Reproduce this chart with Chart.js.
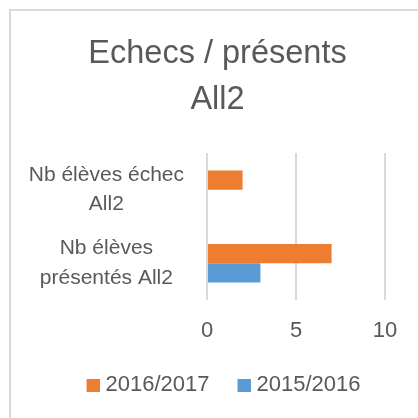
<!DOCTYPE html>
<html>
<head>
<meta charset="utf-8">
<script src="https://cdn.jsdelivr.net/npm/chart.js@4"></script>
<style>
  html, body { margin: 0; padding: 0; background: #ffffff; }
  body { width: 418px; height: 418px; overflow: hidden; position: relative; }
  #frame { position: absolute; left: 9px; top: 9px; width: 600px; height: 600px; border: 2px solid #d9d9d9; box-sizing: border-box; }
  #c { position: absolute; left: 0; top: 0; }
</style>
</head>
<body>
<div id="frame"></div>
<canvas id="c" width="418" height="418"></canvas>
<script>
const titleLines = ["Echecs / présents", "All2"];
const categories = [["Nb élèves échec", "All2"], ["Nb élèves", "présentés All2"]];
const seriesNames = ["2016/2017", "2015/2016"];
const values2016_2017 = [2, 7];
const values2015_2016 = [0, 3];
const xTicks = [0, 5, 10];
const seriesColors = ['#ED7D31', '#5B9BD5'];

const FONT = "'Liberation Sans', Arial, sans-serif";
const TEXT = "#595959";
const GRID = "#d9d9d9";

// legend swatch: 13px square placed at the right of a 30px wide image
function makeSwatch(color) {
  const cv = document.createElement('canvas');
  cv.width = 30; cv.height = 13;
  const g = cv.getContext('2d');
  g.fillStyle = color;
  g.fillRect(17, 0, 13, 13);
  return cv;
}
const swatches = seriesColors.map(makeSwatch);

new Chart(document.getElementById('c'), {
  type: 'bar',
  data: {
    labels: categories,
    datasets: [
      { label: seriesNames[0], data: values2016_2017, backgroundColor: seriesColors[0], borderWidth: 0 },
      { label: seriesNames[1], data: values2015_2016, backgroundColor: seriesColors[1], borderWidth: 0 }
    ]
  },
  options: {
    indexAxis: 'y',
    responsive: false,
    animation: false,
    devicePixelRatio: 1,
    layout: { padding: { left: 20, right: 3, top: 12, bottom: 12 } },
    datasets: { bar: { barPercentage: 1.0, categoryPercentage: 0.527 } },
    scales: {
      x: {
        min: xTicks[0],
        max: xTicks[xTicks.length - 1],
        afterBuildTicks: (axis) => { axis.ticks = xTicks.map(v => ({ value: v })); },
        afterFit: (axis) => { axis.height = 58; },
        grid: { color: GRID, lineWidth: 2, drawTicks: false },
        border: { display: false },
        ticks: { color: TEXT, font: { family: FONT, size: 22, lineHeight: '50px' }, padding: 6 }
      },
      y: {
        grid: { display: false, drawTicks: false },
        border: { display: false },
        afterFit: (axis) => { axis.width = 187; },
        ticks: { color: TEXT, font: { family: FONT, size: 21, lineHeight: 1.4 }, padding: 23, crossAlign: 'center', autoSkip: false }
      },
      yRightSpace: {
        axis: 'y',
        type: 'category',
        position: 'right',
        grid: { display: false, drawTicks: false },
        border: { display: false },
        ticks: { display: false },
        afterFit: (axis) => { axis.width = 30; }
      }
    },
    plugins: {
      title: {
        display: true,
        text: titleLines,
        color: TEXT,
        font: { family: FONT, size: 32.5, weight: 'normal', lineHeight: '46px' },
        padding: { top: 19.5, bottom: 29.5 }
      },
      legend: {
        position: 'bottom',
        labels: {
          color: TEXT,
          font: { family: FONT, size: 22 },
          usePointStyle: true,
          pointStyleWidth: 20,
          boxHeight: 13,
          padding: 16,
          generateLabels: (chart) => {
            const items = Chart.defaults.plugins.legend.labels.generateLabels(chart);
            items.forEach((it, i) => { it.pointStyle = swatches[i]; });
            return items;
          }
        }
      },
      tooltip: { enabled: false }
    }
  }
});
</script>
</body>
</html>
